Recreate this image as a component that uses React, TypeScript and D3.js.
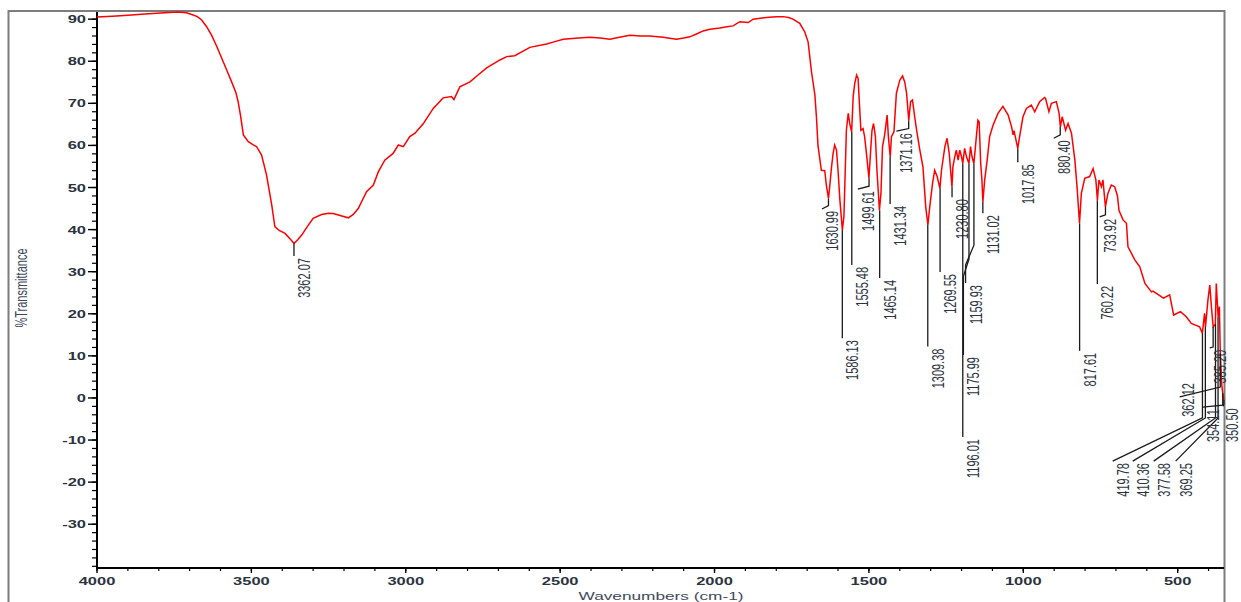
import React from "react";
import * as d3 from "d3";

// ---- spectrum: [wavenumber (cm-1), %T] ----
const spectrum: [number, number][] = [
  [4000, 90.5], [3950, 90.7], [3900, 90.9], [3845, 91.2], [3780, 91.5], [3737, 91.7], [3710, 91.5],
  [3693, 91.1], [3675, 90.6], [3661, 89.8], [3645, 88.2], [3629, 86.2], [3612, 83.5], [3596, 80.7],
  [3580, 77.9], [3564, 75.1], [3550, 72.5], [3543, 70.4], [3535, 67.0], [3526, 62.5], [3510, 60.9],
  [3495, 60.2], [3483, 59.7], [3467, 57.7], [3451, 53.0], [3434, 45.8], [3424, 40.7], [3410, 39.8],
  [3391, 39.1], [3375, 37.8], [3362, 36.7], [3350, 37.6], [3337, 38.7], [3320, 40.6], [3300, 42.7],
  [3273, 43.6], [3250, 43.9], [3235, 43.8], [3210, 43.3], [3186, 42.8], [3170, 43.6], [3154, 45.0],
  [3127, 49.0], [3105, 50.6], [3089, 53.7], [3068, 56.5], [3041, 58.1], [3024, 60.1], [3008, 59.7],
  [2987, 62.1], [2970, 62.9], [2943, 65.2], [2911, 68.8], [2879, 71.3], [2852, 71.6], [2844, 70.9],
  [2825, 73.9], [2792, 75.1], [2765, 76.8], [2738, 78.4], [2695, 80.3], [2673, 81.1], [2647, 81.3],
  [2620, 82.4], [2598, 83.3], [2544, 84.1], [2520, 84.6], [2490, 85.2], [2440, 85.5], [2404, 85.7],
  [2370, 85.5], [2339, 85.2], [2300, 85.8], [2274, 86.2], [2240, 86.0], [2210, 86.0], [2166, 85.7],
  [2140, 85.4], [2123, 85.2], [2100, 85.5], [2080, 85.8], [2055, 86.6], [2037, 87.2], [2015, 87.6],
  [1983, 87.9], [1960, 88.2], [1940, 88.4], [1918, 89.4], [1891, 89.2], [1875, 90.0], [1832, 90.4],
  [1800, 90.6], [1778, 90.6], [1760, 90.4], [1746, 90.0], [1724, 89.0], [1708, 87.0], [1697, 84.6],
  [1686, 77.5], [1675, 72.0], [1670, 66.8], [1665, 60.0], [1654, 54.1], [1643, 54.0], [1638, 50.6],
  [1631, 47.4], [1627, 50.2], [1621, 54.9], [1616, 58.1], [1611, 60.1], [1605, 58.9], [1600, 54.1],
  [1594, 47.0], [1586, 39.9], [1581, 43.1], [1576, 55.7], [1573, 63.6], [1567, 67.6], [1562, 65.2],
  [1556, 63.2], [1551, 71.6], [1546, 74.7], [1540, 76.7], [1535, 75.9], [1532, 71.6], [1526, 63.6],
  [1519, 64.0], [1514, 62.1], [1508, 58.1], [1500, 52.2], [1495, 58.1], [1490, 63.6], [1485, 65.2],
  [1479, 62.1], [1474, 54.1], [1466, 44.6], [1461, 48.6], [1456, 59.7], [1449, 62.5], [1441, 67.2],
  [1437, 62.1], [1431, 57.3], [1427, 62.1], [1419, 63.2], [1411, 72.4], [1400, 75.5], [1391, 76.5],
  [1384, 75.1], [1378, 72.4], [1371, 66.0], [1365, 70.4], [1359, 70.8], [1351, 66.4], [1344, 62.9],
  [1335, 58.9], [1325, 54.9], [1316, 45.4], [1309, 41.1], [1303, 45.4], [1294, 51.0], [1287, 54.1],
  [1279, 52.6], [1270, 49.8], [1265, 54.1], [1254, 59.7], [1247, 61.7], [1240, 58.1], [1231, 50.2],
  [1228, 54.9], [1222, 57.3], [1217, 58.9], [1211, 56.5], [1206, 58.9], [1200, 57.3], [1196, 55.7],
  [1190, 59.3], [1184, 57.3], [1176, 55.7], [1171, 59.7], [1166, 57.3], [1160, 55.7], [1152, 62.1],
  [1147, 66.0], [1143, 65.6], [1138, 55.7], [1134, 51.8], [1131, 46.6], [1125, 51.8], [1117, 56.5],
  [1109, 62.1], [1098, 64.8], [1082, 67.6], [1066, 69.3], [1049, 67.2], [1038, 64.4], [1033, 62.5],
  [1030, 63.5], [1018, 59.3], [1012, 62.1], [1001, 66.8], [990, 68.8], [974, 69.6], [963, 68.0],
  [947, 70.4], [931, 71.4], [928, 71.2], [917, 68.0], [909, 70.0], [893, 70.4], [884, 67.6],
  [880, 64.4], [874, 66.8], [863, 63.6], [855, 65.2], [844, 62.9], [833, 56.5], [826, 50.2],
  [818, 41.5], [812, 48.6], [801, 52.2], [785, 52.6], [774, 54.5], [765, 51.8], [760, 47.0],
  [755, 51.8], [747, 50.2], [742, 51.8], [734, 45.4], [726, 48.6], [715, 50.6], [704, 50.2],
  [695, 48.0], [690, 44.5], [677, 42.3], [666, 41.5], [661, 35.9], [650, 34.4], [639, 32.8],
  [623, 31.2], [606, 27.2], [585, 25.2], [580, 25.4], [546, 23.7], [526, 24.5], [513, 19.7],
  [491, 20.5], [472, 19.3], [456, 17.7], [429, 16.9], [420, 15.4], [413, 20.1], [410, 16.9],
  [402, 23.3], [396, 26.8], [390, 20.9], [385, 16.9], [378, 17.5], [375, 27.2], [369, 19.3],
  [365, 21.7], [362, 10.6], [357, 3.0], [354, 1.1], [350.5, -0.5],
];

// ---- axes ----
const xTicks = [4000, 3500, 3000, 2500, 2000, 1500, 1000, 500];
const yTicks = [90, 80, 70, 60, 50, 40, 30, 20, 10, 0, -10, -20, -30];
const xDomain: [number, number] = [4000, 350];
const yDomain: [number, number] = [-40.4, 91.7];

// ---- peak labels ----
const peakNames = [
  "3362.07", "1630.99", "1586.13", "1555.48", "1499.61", "1465.14", "1431.34", "1371.16",
  "1309.38", "1269.55", "1230.80", "1196.01", "1175.99", "1159.93", "1131.02", "1017.85",
  "880.40", "817.61", "760.22", "733.92", "419.78", "410.36", "377.58", "369.25",
  "385.20", "362.12", "354.11", "350.50",
];
// leader paths in data units [wavenumber, %T], from the band to the label
const leaderPaths: [number, number][][] = [
  [[3362.07, 36.7], [3362.07, 33.7]],
  [[1630.99, 47.4], [1630.99, 45.7], [1652, 44.9]],
  [[1586.13, 39.9], [1586.13, 14.2]],
  [[1555.48, 63.2], [1555.48, 31.6]],
  [[1499.61, 52.2], [1499.61, 50.3], [1536, 49.6]],
  [[1465.14, 44.6], [1465.14, 28.5]],
  [[1431.34, 57.3], [1431.34, 46.1]],
  [[1371.16, 66.0], [1371.16, 64.0], [1411, 63.4]],
  [[1309.38, 41.1], [1309.38, 12.2]],
  [[1269.55, 49.8], [1269.55, 29.9]],
  [[1230.8, 50.2], [1230.8, 47.7]],
  [[1196.01, 55.7], [1196.01, -9.3]],
  [[1175.99, 55.7], [1175.99, 33.0], [1194, 28.9], [1194, 10.2]],
  [[1159.93, 55.7], [1159.93, 36.3], [1187, 31.6], [1187, 27.3]],
  [[1131.02, 46.6], [1131.02, 43.9]],
  [[1017.85, 59.3], [1017.85, 56.0]],
  [[880.4, 64.4], [880.4, 62.5], [901.5, 61.7]],
  [[817.61, 41.5], [817.61, 11.2]],
  [[760.22, 47.0], [760.22, 27.1]],
  [[733.92, 45.4], [733.92, 43.5], [752.6, 43.0]],
  [[419.78, 15.4], [419.78, -4.75], [710.5, -15.0]],
  [[410.36, 16.9], [410.36, -4.75], [645.7, -15.0]],
  [[377.58, 17.5], [377.58, -4.75], [577.7, -15.0]],
  [[369.25, 19.3], [369.25, -4.75], [506.5, -15.0]],
  [[385.2, 16.9], [385.2, 12.1], [396.4, 11.9]],
  [[362.12, 10.6], [362.12, 2.6], [493.6, 0.24]],
  [[354.11, 1.1], [354.11, -1.7], [419, -2.2]],
  [[350.5, -0.5], [350.5, -1.4], [352.7, -2.0]],
];
// label anchor (left/top of text) where it differs from the leader end
const labelAnchorOverrides: Record<string, [number, number]> = {
  "362.12": [498.4, 4.0],
  "350.50": [358, -2.0],
};

const W = 1241;
const H = 602;
const PLOT = { left: 97, right: 1224, top: 12, bottom: 568 };
const FONT = "Arial, 'Liberation Sans', Helvetica, sans-serif";
const TEXT_COLOR = "#2b3340";

export default function App() {
  const x = d3.scaleLinear().domain(xDomain).range([PLOT.left, PLOT.right]);
  const y = d3.scaleLinear().domain(yDomain).range([PLOT.bottom, PLOT.top]);

  const line = d3
    .line<[number, number]>()
    .x((d) => x(d[0]))
    .y((d) => y(d[1]));

  const leader = d3
    .line<[number, number]>()
    .x((d) => x(d[0]))
    .y((d) => y(d[1]));

  const xMinor = d3.range(4000, 350, -100);
  const yMinor = d3.range(-40, 91, 2);

  return (
    <div style={{ position: "absolute", left: 0, top: 0, width: W, height: H, overflow: "hidden", background: "#fff" }}>
      <svg width={W} height={H} style={{ display: "block" }} fontFamily={FONT}>
        <rect x={0} y={0} width={W} height={H} fill="#fff" />
        {/* outer frame */}
        <path d={`M8.5,${H} V11 H1224.5 V${H}`} fill="none" stroke="#7d7d7d" strokeWidth={2} />

        {/* y axis */}
        <line x1={PLOT.left} x2={PLOT.left} y1={PLOT.top} y2={PLOT.bottom + 1} stroke="#000" strokeWidth={2} />
        {yMinor.map((v) => (
          <line key={"ym" + v} x1={PLOT.left - 5} x2={PLOT.left} y1={y(v)} y2={y(v)} stroke="#000" strokeWidth={1.2} />
        ))}
        {yTicks.map((v) => (
          <g key={"yt" + v}>
            <line x1={PLOT.left - 9} x2={PLOT.left} y1={y(v)} y2={y(v)} stroke="#000" strokeWidth={1.4} />
            <text
              transform={`translate(${PLOT.left - 11},${y(v) + 4}) scale(1.5,1)`}
              textAnchor="end"
              fontSize={11}
              fontWeight="bold"
              fill={TEXT_COLOR}
            >
              {v}
            </text>
          </g>
        ))}

        {/* x axis */}
        <line x1={PLOT.left - 1} x2={PLOT.right} y1={PLOT.bottom} y2={PLOT.bottom} stroke="#000" strokeWidth={2} />
        {xMinor.map((v) => (
          <line key={"xm" + v} x1={x(v)} x2={x(v)} y1={PLOT.bottom} y2={PLOT.bottom + 3} stroke="#000" strokeWidth={1.2} />
        ))}
        {xTicks.map((v) => (
          <g key={"xt" + v}>
            <line x1={x(v)} x2={x(v)} y1={PLOT.bottom} y2={PLOT.bottom + 5} stroke="#000" strokeWidth={1.4} />
            <text
              transform={`translate(${x(v)},${PLOT.bottom + 17}) scale(1.5,1)`}
              textAnchor="middle"
              fontSize={11}
              fontWeight="bold"
              fill={TEXT_COLOR}
            >
              {v}
            </text>
          </g>
        ))}

        {/* axis titles */}
        <text
          transform={`translate(661,600) scale(1.5,1)`}
          textAnchor="middle"
          fontSize={11.5}
          fill="#3d4a5c"
        >
          Wavenumbers (cm-1)
        </text>
        <text
          transform={`translate(27,288) scale(1.5,1) rotate(-90)`}
          textAnchor="middle"
          fontSize={11}
          fill="#3d4a5c"
        >
          %Transmittance
        </text>

        {/* spectrum */}
        <path d={line(spectrum) || ""} fill="none" stroke="#ff0000" strokeWidth={1.5} strokeLinejoin="miter" />

        {/* peak leaders and labels */}
        {peakNames.map((name, i) => {
          const path = leaderPaths[i];
          const end = labelAnchorOverrides[name] || path[path.length - 1];
          const lx = x(end[0]) + 4.5;
          const ly = y(end[1]) + 2;
          return (
            <g key={"pk" + name}>
              <path d={leader(path) || ""} fill="none" stroke="#1a1a1a" strokeWidth={1.3} />
              <text
                transform={`translate(${lx + 11.5},${ly}) scale(1.45,1) rotate(-90)`}
                textAnchor="end"
                fontSize={11}
                fill={TEXT_COLOR}
              >
                {name}
              </text>
            </g>
          );
        })}
      </svg>
    </div>
  );
}
